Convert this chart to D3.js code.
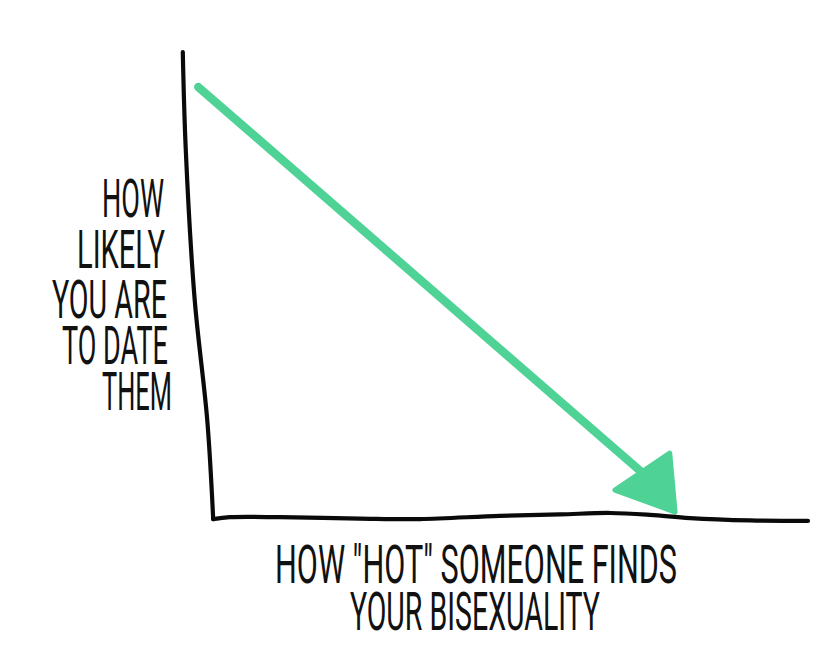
<!DOCTYPE html>
<html>
<head>
<meta charset="utf-8">
<script src="https://cdn.jsdelivr.net/npm/d3@7"></script>
<style>
  html, body { margin: 0; padding: 0; background: #fff; }
  svg { display: block; }
  .lbl { font-family: Roboto, "Open Sans", "Liberation Sans", sans-serif; font-weight: 400; fill: #111; }
</style>
</head>
<body>
<svg id="chart" width="830" height="656"></svg>
<script>
// ---- data (chart units: 0..100 on both axes) ----
const yAxisLabelLines = ["HOW", "LIKELY", "YOU ARE", "TO DATE", "THEM"];
const xAxisLabelLines = ["HOW \"HOT\" SOMEONE FINDS", "YOUR BISEXUALITY"];

// hand-drawn axis strokes
const yAxisX = [-4.9, -4.4, -2.9, -0.8, 0.2];
const yAxisY = [100, 79.1, 47.0, 21.4, 0.2];
const xAxisX = [0.2, 3.0, 11.4, 24.8, 34.9, 48.3, 58.4, 66.8, 73.5, 80.2, 90.3, 100];
const xAxisY = [0.2, 0.6, 0.6, 0.3, 0.2, 0.9, 1.2, 1.5, 1.1, 0.4, -0.1, -0.2];

// the trend arrow: shaft and head
const shaftX = [-2.3, 73.2];
const shaftY = [92.5, 9.0];
const headX = [67.6, 76.8, 77.7];
const headY = [6.4, 14.3, 1.7];

// ---- drawing ----
const svg = d3.select("#chart");
const x = d3.scaleLinear().domain([0, 100]).range([212, 808]);
const y = d3.scaleLinear().domain([0, 100]).range([520, 52]);

const zip = (xs, ys) => xs.map((v, i) => [v, ys[i]]);
const line = d3.line().x(d => x(d[0])).y(d => y(d[1])).curve(d3.curveCatmullRom.alpha(0.5));
const straight = d3.line().x(d => x(d[0])).y(d => y(d[1]));

const green = "#4fd295";

// arrow shaft
svg.append("path")
  .attr("d", straight(zip(shaftX, shaftY)))
  .attr("fill", "none").attr("stroke", green)
  .attr("stroke-width", 8.5).attr("stroke-linecap", "round");

// arrow head
svg.append("path")
  .attr("d", straight(zip(headX, headY)) + "Z")
  .attr("fill", green).attr("stroke", green)
  .attr("stroke-width", 5).attr("stroke-linejoin", "round");

// axes
svg.append("path")
  .attr("d", line(zip(yAxisX, yAxisY)))
  .attr("fill", "none").attr("stroke", "#0a0a0a")
  .attr("stroke-width", 4.2).attr("stroke-linecap", "round");
svg.append("path")
  .attr("d", line(zip(xAxisX, xAxisY)))
  .attr("fill", "none").attr("stroke", "#0a0a0a")
  .attr("stroke-width", 4.2).attr("stroke-linecap", "round");

// tall, narrow hand-lettered look: small font stretched vertically
const FS = 26, SY = 2.1;
function label(t, left, base, width) {
  svg.append("text").attr("class", "lbl")
    .attr("transform", `translate(${left},${base}) scale(1,${SY})`)
    .attr("x", 0).attr("y", 0)
    .attr("font-size", FS)
    .attr("textLength", width).attr("lengthAdjust", "spacingAndGlyphs")
    .text(t);
}

// y label (right aligned)
const yLblRight = [164, 165, 167, 168, 172];
const yLblBase = [217, 268, 318, 364, 410];
const yLblWidth = [62, 88, 115, 106, 70];
yAxisLabelLines.forEach((t, i) => label(t, yLblRight[i] - yLblWidth[i], yLblBase[i], yLblWidth[i]));

// x label
const xLblLeft = [275, 350];
const xLblBase = [583, 630];
const xLblWidth = [402, 250];
xAxisLabelLines.forEach((t, i) => label(t, xLblLeft[i], xLblBase[i], xLblWidth[i]));
</script>
</body>
</html>
